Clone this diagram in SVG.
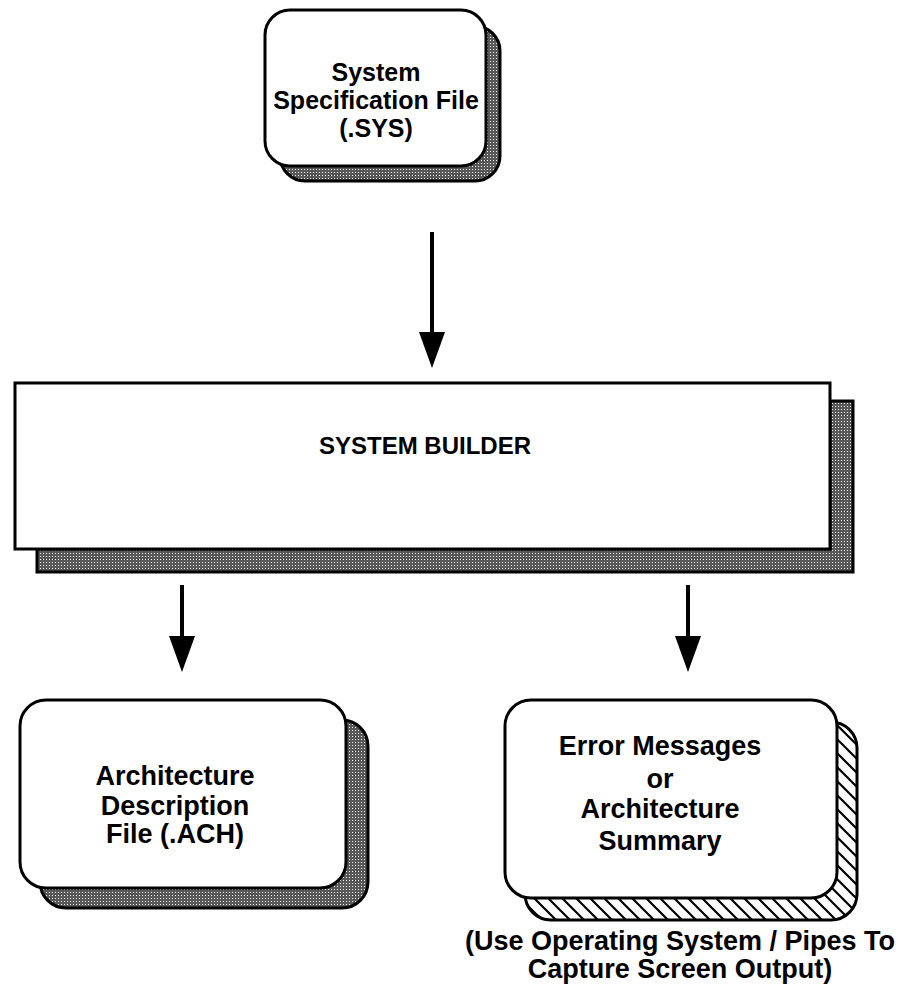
<svg xmlns="http://www.w3.org/2000/svg" width="897" height="1006" viewBox="0 0 897 1006">
  <defs>
    <pattern id="stipple" width="3" height="3" patternUnits="userSpaceOnUse">
      <rect width="3" height="3" fill="#585858"/>
      <rect x="1" y="1" width="1" height="1" fill="#eeeeee"/>
    </pattern>
    <pattern id="hatch" width="14" height="14" patternUnits="userSpaceOnUse">
      <rect width="14" height="14" fill="#fff"/>
      <path d="M0,0 L14,14 M-7,7 L7,21 M7,-7 L21,7" stroke="#000" stroke-width="2.2"/>
    </pattern>
    <marker id="arrow" viewBox="0 0 36 26" refX="6" refY="13" markerWidth="36" markerHeight="26" markerUnits="userSpaceOnUse" orient="auto">
      <path d="M0,0 L36,13 L0,26 Z" fill="#000"/>
    </marker>
  </defs>
  <style>
    .box { fill: #fff; stroke: #000; stroke-width: 3; }
    .shadow { fill: url(#stipple); stroke: #000; stroke-width: 3; }
    .hshadow { fill: url(#hatch); stroke: #000; stroke-width: 3; }
    .lbl { font-family: "Liberation Sans", Arial, Helvetica, sans-serif; font-weight: bold; fill: #000; text-anchor: middle; }
    .t25 { font-size: 25px; }
    .t24 { font-size: 24px; }
    .t27 { font-size: 27px; }
    .conn { stroke: #000; stroke-width: 4; fill: none; }
  </style>

  <g id="spec-file">
    <rect class="shadow" x="280" y="26" width="220" height="155" rx="25"/>
    <rect class="box" x="265" y="10" width="221" height="156" rx="25"/>
    <text class="lbl t25" x="376" y="81">System</text>
    <text class="lbl t25" x="376" y="109">Specification File</text>
    <text class="lbl t25" x="376" y="137">(.SYS)</text>
  </g>

  <g id="system-builder">
    <path class="shadow" d="M830,401 L853,401 L853,572 L37,572 L37,549 L830,549 Z"/>
    <rect class="box" x="15" y="383" width="815" height="166"/>
    <text class="lbl t24" x="425" y="454">SYSTEM BUILDER</text>
  </g>

  <g id="arch-file">
    <rect class="shadow" x="40" y="720" width="328" height="188" rx="26"/>
    <rect class="box" x="20" y="700" width="326" height="188" rx="26"/>
    <text class="lbl t27" x="175" y="785">Architecture</text>
    <text class="lbl t27" x="175" y="815">Description</text>
    <text class="lbl t27" x="175" y="843">File (.ACH)</text>
  </g>

  <g id="summary">
    <rect class="hshadow" x="525" y="722" width="332" height="198" rx="26"/>
    <rect class="box" x="505" y="700" width="332" height="198" rx="26"/>
    <text class="lbl t27" x="660" y="755">Error Messages</text>
    <text class="lbl t27" x="660" y="788">or</text>
    <text class="lbl t27" x="660" y="818">Architecture</text>
    <text class="lbl t27" x="660" y="850">Summary</text>
  </g>

  <g id="note">
    <text class="lbl t27" x="680" y="950">(Use Operating System / Pipes To</text>
    <text class="lbl t27" x="680" y="978">Capture Screen Output)</text>
  </g>

  <g id="connectors">
    <line class="conn" x1="432" y1="232" x2="432" y2="338" marker-end="url(#arrow)"/>
    <line class="conn" x1="182" y1="585" x2="182" y2="642" marker-end="url(#arrow)"/>
    <line class="conn" x1="688" y1="585" x2="688" y2="642" marker-end="url(#arrow)"/>
  </g>
</svg>
